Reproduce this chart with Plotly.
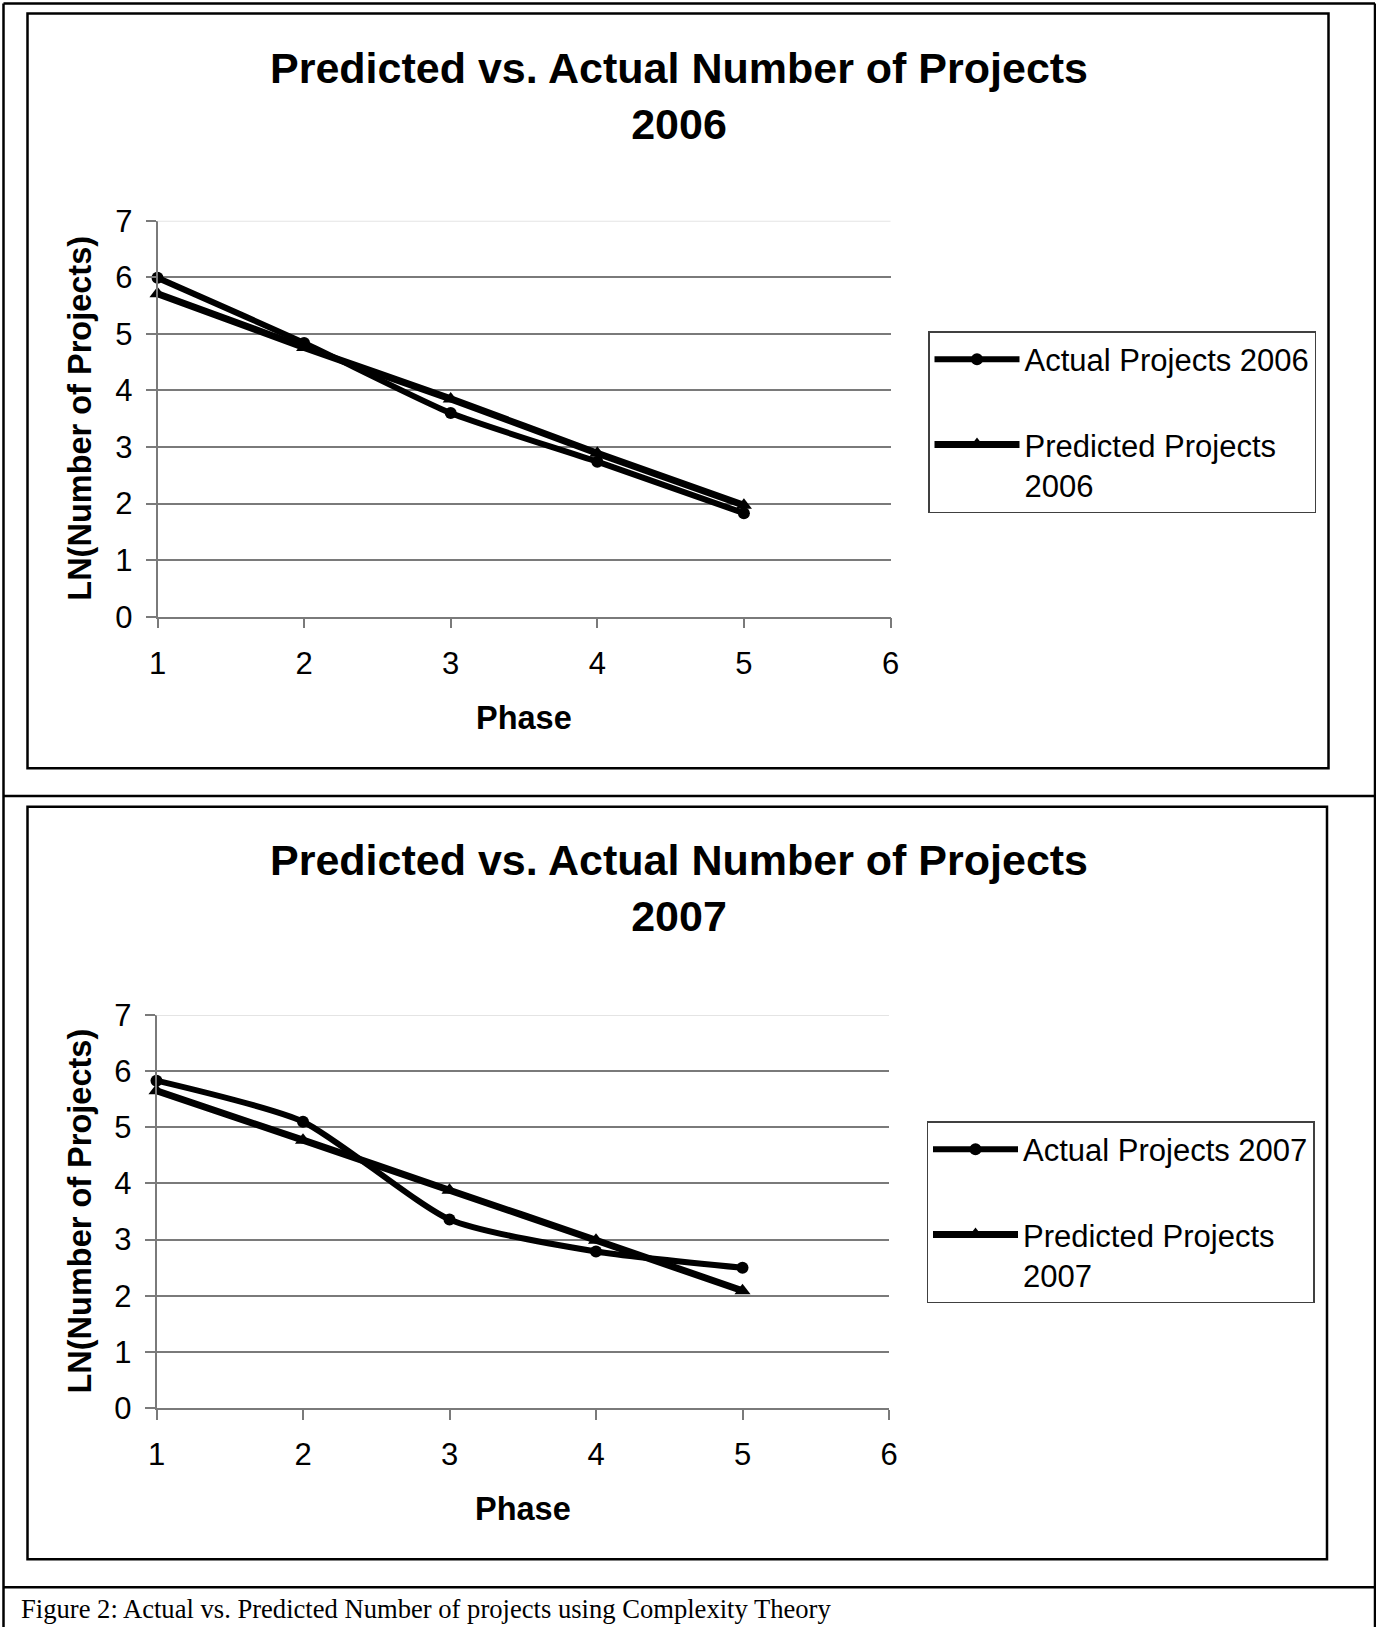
import plotly.graph_objects as go

# ---- data ----------------------------------------------------------------
phase = [1, 2, 3, 4, 5]
actual_2006 = [5.99, 4.84, 3.60, 2.74, 1.83]
predicted_2006 = [5.71, 4.76, 3.85, 2.89, 1.97]
actual_2007 = [5.83, 5.10, 3.36, 2.79, 2.50]
predicted_2007 = [5.65, 4.77, 3.88, 2.99, 2.09]

x_ticks = [1, 2, 3, 4, 5, 6]
y_ticks = [0, 1, 2, 3, 4, 5, 6, 7]

chart_titles = ["Predicted vs. Actual Number of Projects<br>2006",
                "Predicted vs. Actual Number of Projects<br>2007"]
legend_names = [("Actual Projects 2006", "Predicted Projects<br>2006"),
                ("Actual Projects 2007", "Predicted Projects<br>2007")]
x_title = "Phase"
y_title = "LN(Number of Projects)"
caption = "Figure 2: Actual vs. Predicted Number of projects using Complexity Theory"

# ---- page geometry (pixels) ---------------------------------------------
W, H = 1376, 1627


def px(x):
    return x / W


def py(y):
    return 1 - y / H


SANS = "Liberation Sans, Arial, sans-serif"
SERIF = "Liberation Serif, Times New Roman, serif"
GRID = "#7a7a7a"

fig = go.Figure()

panels = [
    dict(ax="", x0=157.5, x1=890.5, y0=616.7, y1=220.7, title_y=96,
         actual=actual_2006, pred=predicted_2006, legend="legend"),
    dict(ax="2", x0=156.5, x1=889.0, y0=1408.2, y1=1014.9, title_y=888,
         actual=actual_2007, pred=predicted_2007, legend="legend2"),
]

for i, p in enumerate(panels):
    xa, ya = "x" + p["ax"], "y" + p["ax"]
    name_a, name_p = legend_names[i]
    fig.add_trace(go.Scatter(
        x=phase, y=p["actual"], name=name_a, xaxis=xa, yaxis=ya,
        mode="lines+markers",
        line=dict(color="black", width=6, shape="spline", smoothing=0.6),
        marker=dict(symbol="circle", size=12, color="black"),
        cliponaxis=False, legend=p["legend"], legendgroup="a%d" % i,
    ))
    fig.add_trace(go.Scatter(
        x=phase, y=p["pred"], name=name_p, xaxis=xa, yaxis=ya,
        mode="lines+markers",
        line=dict(color="black", width=7, shape="spline", smoothing=0.6),
        marker=dict(symbol="triangle-up", size=14, color="black"),
        cliponaxis=False, legend=p["legend"], legendgroup="p%d" % i,
    ))

    axis_common = dict(
        showline=True, linecolor=GRID, linewidth=1.5,
        ticks="outside", ticklen=10, tickwidth=1.5, tickcolor=GRID,
        tickfont=dict(family=SANS, size=31, color="black"),
        zeroline=False, fixedrange=True, automargin=False,
    )
    fig.update_layout(**{
        "xaxis" + p["ax"]: dict(
            axis_common, domain=[px(p["x0"]), px(p["x1"])],
            range=[1, 6], tickvals=x_ticks, showgrid=False,
            anchor=ya, ticklabelstandoff=8,
        ),
        "yaxis" + p["ax"]: dict(
            axis_common, domain=[py(p["y0"]), py(p["y1"])],
            range=[0, 7], tickvals=y_ticks, showgrid=True,
            gridcolor=GRID, gridwidth=1.5, anchor=xa, ticklabelstandoff=7,
        ),
    })

    # faint top edge of the plot area at y = 7
    fig.add_shape(type="line", xref=xa + " domain", yref=ya,
                  x0=0, x1=1, y0=7, y1=7,
                  line=dict(color="#e4e4e4", width=2), layer="above")

    # titles
    fig.add_annotation(text="<b>%s</b>" % chart_titles[i], xref="paper", yref="paper",
                       x=px(678.5), y=py(p["title_y"]), xanchor="center", yanchor="middle",
                       showarrow=False, font=dict(family=SANS, size=43, color="black"))
    fig.add_annotation(text="<b>%s</b>" % x_title, xref="paper", yref="paper",
                       x=px((p["x0"] + p["x1"]) / 2), y=py(p["y0"] + 101),
                       xanchor="center", yanchor="middle", showarrow=False,
                       font=dict(family=SANS, size=32.5, color="black"))
    fig.add_annotation(text="<b>%s</b>" % y_title, xref="paper", yref="paper",
                       x=px(80), y=py((p["y0"] + p["y1"]) / 2), textangle=-90,
                       xanchor="center", yanchor="middle", showarrow=False,
                       font=dict(family=SANS, size=32.5, color="black"))

legend_common = dict(
    xanchor="left", yanchor="top", bgcolor="white",
    bordercolor="#404040", borderwidth=1.5,
    font=dict(family=SANS, size=31, color="black"),
    itemwidth=85, valign="top", traceorder="grouped", tracegroupgap=42,
    itemclick=False, itemdoubleclick=False,
)
fig.update_layout(
    legend=dict(legend_common, x=px(928), y=py(331)),
    legend2=dict(legend_common, x=px(926.5), y=py(1121)),
)

# ---- frames, separators and caption --------------------------------------
def frame(x0, y0, x1, y1, w=2.5):
    fig.add_shape(type="rect", xref="paper", yref="paper",
                  x0=px(x0), x1=px(x1), y0=py(y0), y1=py(y1),
                  line=dict(color="black", width=w), layer="below")


def hline(y, x0=3.5, x1=1375, w=2.5):
    fig.add_shape(type="line", xref="paper", yref="paper",
                  x0=px(x0), x1=px(x1), y0=py(y), y1=py(y),
                  line=dict(color="black", width=w))


def vline(x, y0, y1, w=2.5):
    fig.add_shape(type="line", xref="paper", yref="paper",
                  x0=px(x), x1=px(x), y0=py(y0), y1=py(y1),
                  line=dict(color="black", width=w))


frame(27.5, 13.5, 1328.5, 768.3)
frame(27.5, 806.7, 1327.0, 1559.3)
hline(3.5)
hline(796)
hline(1587.3)
vline(3.5, 3.5, 1627)
vline(1375, 3.5, 1627)

fig.add_annotation(text=caption, xref="paper", yref="paper",
                   x=px(19), y=py(1609), xanchor="left", yanchor="middle",
                   showarrow=False, font=dict(family=SERIF, size=26.6, color="black"))

fig.update_layout(
    width=W, height=H, autosize=False,
    margin=dict(l=0, r=0, t=0, b=0, autoexpand=False),
    paper_bgcolor="white", plot_bgcolor="white",
)

fig.write_html("out.html")
